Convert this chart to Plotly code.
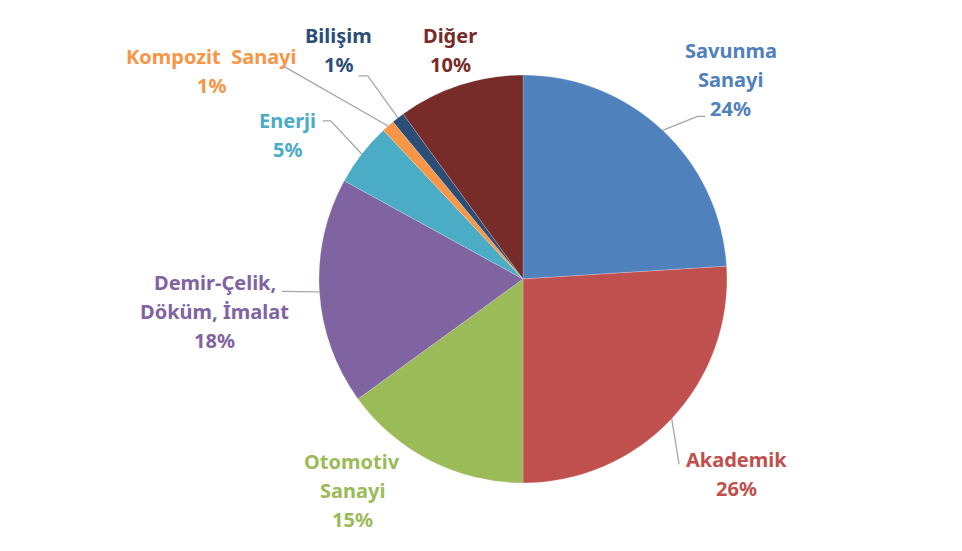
import math
import plotly.graph_objects as go

# pay sektörleri (%)
sectors = ["Savunma<br>Sanayi", "Akademik", "Otomotiv<br>Sanayi", "Demir-Çelik,<br>Döküm, İmalat",
           "Enerji", "Kompozit  Sanayi", "Bilişim", "Diğer"]
shares = [24, 26, 15, 18, 5, 1, 1, 10]
colors = ["#4F81BD", "#C0504D", "#9BBB59", "#8064A2", "#4BACC6", "#F79646", "#2C4D75", "#772C2A"]

W, H = 962, 551
OFF = 8  # page body margin in the browser
CX, CY, R = 523 - OFF, 279 - OFF, 204
LINE_H = 29

# label placement: (angle from 12 o'clock clockwise, distance from centre in px)
label_polar = [(46.1, 288), (132.5, 289), (218.9, 272), (264, 310),
               (301.5, 276), (303.7, 375), (321.2, 294), (342.3, 240)]
# leader line points relative to label centre (None -> no leader)
leaders = [[(-33, 37), (-25, 37)], [(-57, -10)], None, [(67, -20)],
           [(43, -14), (35, -14)], [(72, -5)], [(29, 26), (20, 26)], None]

fig = go.Figure()
fig.add_trace(go.Pie(
    labels=sectors, values=shares, sort=False, direction="clockwise", rotation=0,
    marker=dict(colors=colors, line=dict(color="rgba(255,255,255,0.4)", width=0.5)),
    textinfo="none", hoverinfo="label+percent", showlegend=False,
    domain=dict(x=[(CX - R) / W, (CX + R) / W], y=[(H - CY - R) / H, (H - CY + R) / H]),
))

total = sum(shares)
cum = 0
for i, v in enumerate(shares):
    mid = math.radians((cum + v / 2) / total * 360)
    cum += v
    ang, dist = label_polar[i]
    a = math.radians(ang)
    lx = CX + dist * math.sin(a)
    ly = CY - dist * math.cos(a)
    if leaders[i]:
        xs = [CX + R * math.sin(mid)] + [lx + dx for dx, dy in leaders[i]]
        ys = [CY - R * math.cos(mid)] + [ly + dy for dx, dy in leaders[i]]
        fig.add_trace(go.Scatter(x=xs, y=ys, mode="lines", line=dict(color="#A6A6A6", width=1.3),
                                 hoverinfo="skip", showlegend=False))
    pct = round(v / total * 100)
    lines = sectors[i].split("<br>") + [f"{pct}%"]
    n = len(lines)
    for k, t in enumerate(lines):
        fig.add_annotation(x=lx, y=ly + (k - (n - 1) / 2) * LINE_H, xref="x", yref="y",
                           showarrow=False, text=f"<b>{t}</b>",
                           font=dict(family="Noto Sans", size=20, color=colors[i]),
                           xanchor="center", yanchor="middle")

fig.update_xaxes(range=[0, W], visible=False, fixedrange=True)
fig.update_yaxes(range=[H, 0], visible=False, fixedrange=True)
fig.update_layout(width=W, height=H, margin=dict(l=0, r=0, t=0, b=0),
                  paper_bgcolor="white", plot_bgcolor="rgba(0,0,0,0)")

fig.write_html("out.html")
